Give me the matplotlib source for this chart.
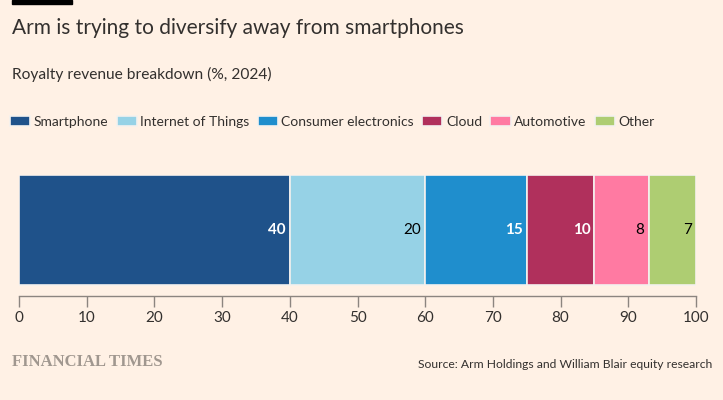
import matplotlib
matplotlib.use('Agg')
import matplotlib.pyplot as plt
from matplotlib.patches import Rectangle

# data
categories = ['Smartphone', 'Internet of Things', 'Consumer electronics',
              'Cloud', 'Automotive', 'Other']
values = [40, 20, 15, 10, 8, 7]
colors = ['#1F528A', '#96D2E6', '#1F8ECD', '#B0305C', '#FF7AA2', '#AECD72']
label_colors = ['white', 'black', 'white', 'white', 'black', 'black']
xticks = [0, 10, 20, 30, 40, 50, 60, 70, 80, 90, 100]

bg = '#FFF1E5'
plt.rcParams['font.family'] = ['Lato', 'DejaVu Sans']

fig = plt.figure(figsize=(7.23, 4.0), dpi=100, facecolor=bg)
ax = fig.add_axes([19/723, 104/400, 677/723, 121/400])
ax.set_facecolor(bg)

left = 0
handles = []
for cat, v, c, lc in zip(categories, values, colors, label_colors):
    b = ax.barh(0.6, v, left=left, height=1.0, color=c, edgecolor='#F4F1EE',
                linewidth=1.2, label=cat)
    handles.append(b)
    ax.text(left + v - 0.6, 0.6, str(v), ha='right', va='center',
            fontsize=11, color=lc, fontweight='bold' if lc == 'white' else 'normal')
    left += v

ax.set_xlim(0, 100)
ax.set_ylim(0, 1.1)
ax.set_xticks(xticks)
ax.set_yticks([])
for s in ['top', 'right', 'left']:
    ax.spines[s].set_visible(False)
ax.spines['bottom'].set_color('#8C8580')
ax.spines['bottom'].set_linewidth(1)
ax.tick_params(axis='x', length=8, width=1, color='#8C8580', labelsize=11,
               labelcolor='#33302E', pad=3)

# header
fig.patches.append(Rectangle((12/723, 396/400), 60/723, 4/400, transform=fig.transFigure,
                             color='black'))
fig.text(12/723, 1 - 28/400, 'Arm is trying to diversify away from smartphones',
         fontsize=15, color='#33302E', va='center')
fig.text(12/723, 1 - 74/400, 'Royalty revenue breakdown (%, 2024)',
         fontsize=11.2, color='#33302E', va='center')

leg = fig.legend(handles=handles, labels=categories, loc='center left',
                 bbox_to_anchor=(10/723, 1 - 122/400), ncol=6, frameon=False,
                 fontsize=10, handlelength=1.45, handleheight=0.75,
                 handletextpad=0.25, columnspacing=0.6, borderaxespad=0,
                 borderpad=0)
for t in leg.get_texts():
    t.set_color('#33302E')

fig.text(12/723, 1 - 362/400, 'FINANCIAL TIMES', fontsize=12, color='#A0978F',
         family=['Liberation Serif', 'DejaVu Serif'], fontweight='bold', va='center')
fig.text(712/723, 1 - 365/400, 'Source: Arm Holdings and William Blair equity research',
         fontsize=8.7, color='#33302E', ha='right', va='center')

fig.savefig('out.png', dpi=100, facecolor=bg)
